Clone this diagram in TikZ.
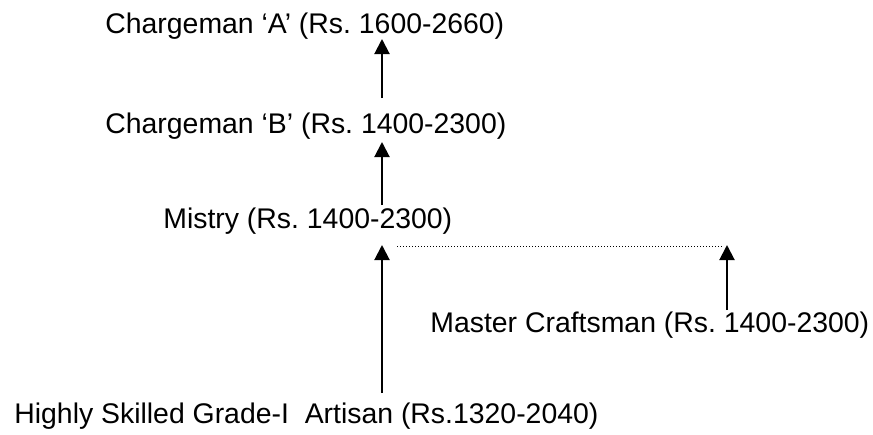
\documentclass[tikz,border=0pt]{standalone}
\usepackage{fontspec}
\setmainfont{Liberation Sans}
\usetikzlibrary{arrows.meta}
\frenchspacing

\tikzset{
    grade/.style={anchor=base west, inner sep=0pt, font=\fontsize{14.2}{17}\selectfont},
    promo/.style={line width=1pt, -{Triangle[width=7.5pt, length=7.5pt]}},
    link/.style={line width=0.5pt, dash pattern=on 0.5pt off 1pt},
}

\begin{document}
\begin{tikzpicture}[x=0.5pt, y=-0.5pt]
    \useasboundingbox (0, 0) rectangle (873, 434);
    % grades, top to bottom
    \node[grade] (chgA) at (105, 33) {Chargeman ‘A’ (Rs. 1600-2660)};
    \node[grade] (chgB) at (105, 133) {Chargeman ‘B’ (Rs. 1400-2300)};
    \node[grade] (mistry) at (163, 228) {Mistry (Rs. 1400-2300)};
    \node[grade] (master) at (430, 332) {Master Craftsman (Rs. 1400-2300)};
    \node[grade] (artisan) at (14, 423) {Highly Skilled Grade-I\ \ Artisan (Rs.1320-2040)};

    % arrow ends
    \coordinate (upA) at (382, 39);
    \coordinate (fromB) at (382, 98);
    \coordinate (upB) at (382, 142);
    \coordinate (fromM) at (382, 205);
    \coordinate (upM) at (382, 245);
    \coordinate (fromArt) at (382, 393);
    \coordinate (upMC) at (727, 245);
    \coordinate (fromMC) at (727, 310);

    \draw[promo] (fromB) -- (upA);
    \draw[promo] (fromM) -- (upB);
    \draw[promo] (fromArt) -- (upM);
    \draw[promo] (fromMC) -- (upMC);
    \draw[link] (397, 246) -- (723, 246);
\end{tikzpicture}
\end{document}
